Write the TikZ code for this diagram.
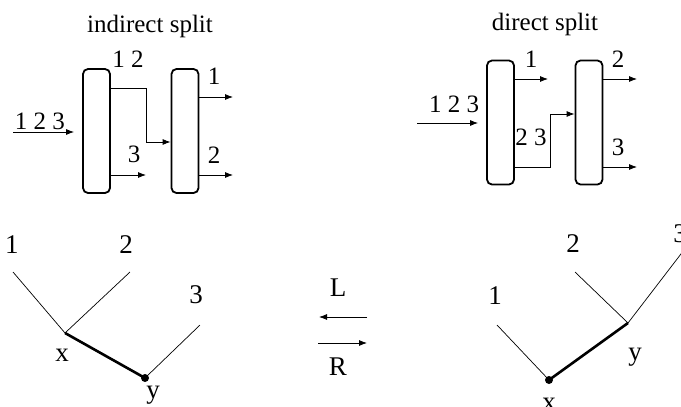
\documentclass[tikz,border=0pt]{standalone}
\usepackage{fontspec}
\setmainfont{Liberation Serif}
\usetikzlibrary{arrows.meta,positioning,calc}

\begin{document}
\begin{tikzpicture}[x=1pt,y=-1pt,
	column/.style={draw,line width=1.8pt,rounded corners=5pt,
		minimum width=27pt,minimum height=124pt,inner sep=0pt},
	flow/.style={line width=0.8pt,-{Latex[length=8pt,width=6pt]}},
	lbl/.style={font=\fontsize{25}{30}\selectfont,anchor=base,inner sep=0pt},
	ttl/.style={font=\fontsize{25}{30}\selectfont,anchor=base,inner sep=0pt},
	tlbl/.style={font=\fontsize{27}{32}\selectfont,anchor=base,inner sep=0pt},
	branch/.style={line width=0.7pt},
	cut/.style={line width=2.6pt}]
		
		\useasboundingbox
		(0,0)
		rectangle
		(681,407);
		
		% indirect split
		\node[ttl] (ttlA) at (150,32)
		{indirect split};
		
		\node[column] (colA1) at (96.5,131) {};
		\node[column] (colA2) at (185,131) {};
		
		\coordinate (inA) at (13,132);
		\coordinate (topA) at (146,88);
		\coordinate (bendA) at (146,142);
		\coordinate (outA3) at (146,175);
		\coordinate (outA1) at (233,97);
		\coordinate (outA2) at (233,175);
		
		\draw[flow]
		(inA)
		--
		([xshift=-8pt]colA1.west |- inA);
		
		\draw[flow]
		(colA1.east |- topA)
		-- (topA)
		-- (bendA)
		-- (colA2.west |- bendA);
		
		\draw[flow]
		(colA1.east |- outA3)
		-- (outA3);
		
		\draw[flow]
		(colA2.east |- outA1)
		-- (outA1);
		
		\draw[flow]
		(colA2.east |- outA2)
		-- (outA2);
		
		\node[lbl] (fA) at (40,129) {1 2 3};
		\node[lbl] (tA) at (128,67) {1 2};
		\node[lbl] (bA) at (134,162) {3};
		\node[lbl] (pA1) at (214,84) {1};
		\node[lbl] (pA2) at (214,163) {2};
		
		% direct split
		\node[ttl] (ttlB) at (545,30)
		{direct split};
		
		\node[column] (colB1) at (500.5,122.5) {};
		\node[column] (colB2) at (589,122.5) {};
		
		\coordinate (inB) at (417,123);
		\coordinate (outB1) at (548,79);
		\coordinate (botB) at (550,167);
		\coordinate (bendB) at (550,114);
		\coordinate (outB2) at (637,79);
		\coordinate (outB3) at (637,167);
		
		\draw[flow]
		(inB)
		--
		([xshift=-8pt]colB1.west |- inB);
		
		\draw[flow]
		(colB1.east |- outB1)
		-- (outB1);
		
		\draw[flow]
		(colB1.east |- botB)
		-- (botB)
		-- (bendB)
		-- (colB2.west |- bendB);
		
		\draw[flow]
		(colB2.east |- outB2)
		-- (outB2);
		
		\draw[flow]
		(colB2.east |- outB3)
		-- (outB3);
		
		\node[lbl] (fB) at (454,112) {1 2 3};
		\node[lbl] (tB) at (531,67) {1};
		\node[lbl] (bB) at (531,145) {2 3};
		\node[lbl] (pB2) at (618,67) {2};
		\node[lbl] (pB3) at (618,155) {3};
		
		% left tree
		\coordinate (xA) at (65,333);
		\coordinate (yA) at (145,378);
		\coordinate (leafA1) at (13,272);
		\coordinate (leafA2) at (130,272);
		\coordinate (leafA3) at (200,325);
		
		\draw[branch] (leafA1) -- (xA);
		\draw[branch] (leafA2) -- (xA);
		\draw[branch] (leafA3) -- (yA);
		\draw[cut] (xA) -- (yA);
		\fill (yA) circle (4pt);
		
		\node[tlbl] at (12,253) {1};
		\node[tlbl] at (126,253) {2};
		\node[tlbl] at (196,303) {3};
		\node[tlbl] at (62,361) {x};
		\node[tlbl] at (153,398) {y};
		
		% moves
		\coordinate (lR) at (367,317);
		\coordinate (lL) at (319,317);
		\coordinate (rL) at (318,343);
		\coordinate (rR) at (367,343);
		
		\draw[flow] (lR) -- (lL);
		\draw[flow] (rL) -- (rR);
		
		\node[tlbl] (mL) at (338,296) {L};
		\node[tlbl] (mR) at (338,375) {R};
		
		% right tree
		\coordinate (xB) at (549,380);
		\coordinate (yB) at (628,323);
		\coordinate (leafB1) at (497,325);
		\coordinate (leafB2) at (575,272);
		\coordinate (leafB3) at (684,250);
		
		\draw[branch] (leafB1) -- (xB);
		\draw[branch] (leafB2) -- (yB);
		\draw[branch] (leafB3) -- (yB);
		\draw[cut] (xB) -- (yB);
		\fill (xB) circle (4pt);
		
		\node[tlbl] at (495,304) {1};
		\node[tlbl] at (573,252) {2};
		\node[tlbl] at (680,242) {3};
		\node[tlbl] at (549,410) {x};
		\node[tlbl] at (635,360) {y};
		
	\end{tikzpicture}
\end{document}
